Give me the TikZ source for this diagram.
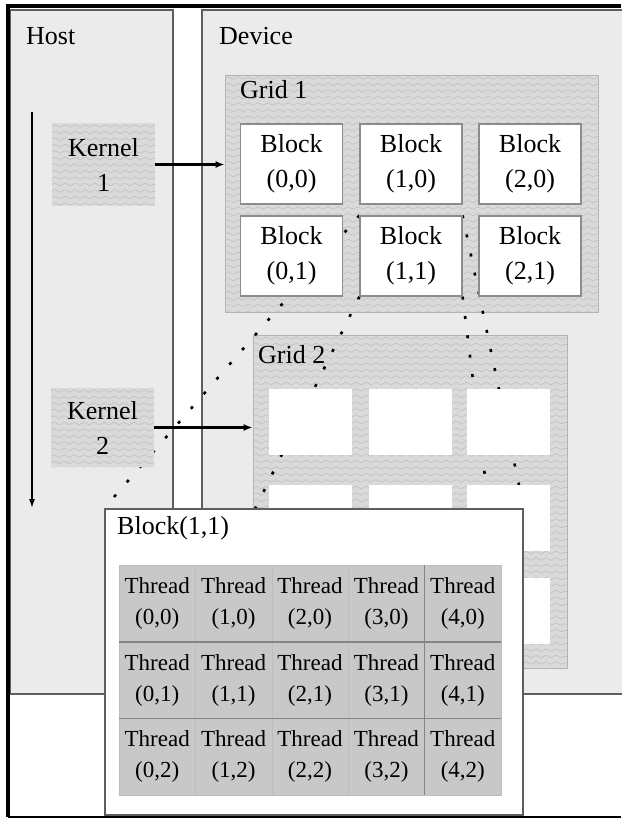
\documentclass[tikz,border=0pt]{standalone}
\usepackage{fontspec}
\setmainfont{Liberation Serif}
\usetikzlibrary{arrows.meta,decorations.pathmorphing}
\definecolor{Panel}{HTML}{EBEBEB}
\definecolor{PanelLine}{HTML}{5E5E5E}
\definecolor{Wave}{HTML}{DADADA}
\definecolor{WaveLine}{HTML}{C2C2C2}
\definecolor{GridLine}{HTML}{B4B4B4}
\definecolor{BoxLine}{HTML}{8C8C8C}
\definecolor{ThreadFill}{HTML}{C8C8C8}
\definecolor{ThreadLine}{HTML}{BDBDBD}
\definecolor{SepLine}{HTML}{858585}
\newcommand\lblfont{\fontsize{26}{35}\selectfont}
\newcommand\thrfont{\fontsize{23}{31}\selectfont}
\pgfdeclarelayer{bg}
\pgfdeclarelayer{dots}
\pgfsetlayers{bg,dots,main}

\begin{document}
\begin{tikzpicture}[
  x=1pt,y=-1pt,>=Latex,
  panel/.style={draw=PanelLine,line width=1.6pt,fill=Panel,inner sep=0},
  wave/.style={fill=Wave,inner sep=0,align=center,font=\lblfont,path picture={
    \foreach \k in {3,9.5,...,345}
      \draw[WaveLine,line width=.7pt,decorate,decoration={snake,amplitude=1.3pt,segment length=10pt}]
        ([yshift=-\k pt]path picture bounding box.north west) -- ([yshift=-\k pt]path picture bounding box.north east);}},
  gridbox/.style={wave,draw=GridLine,line width=.8pt},
  blockbox/.style={draw=BoxLine,line width=1.2pt,fill=white,inner sep=0,minimum width=102pt,minimum height=80pt,align=center,font=\lblfont},
  emptybox/.style={fill=white,inner sep=0,minimum width=83pt,minimum height=66pt},
  thread/.style={draw=ThreadLine,line width=.6pt,fill=ThreadFill,inner sep=0,minimum width=76.4pt,minimum height=76.67pt,align=center,font=\thrfont},
  lbl/.style={inner sep=0,anchor=base west,font=\lblfont},
  karrow/.style={-{Latex[length=9pt,width=7pt]},line width=2.2pt},
  tarrow/.style={-{Latex[length=9pt,width=6pt]},line width=1.5pt},
  dotline/.style={line width=2.6pt,dash pattern=on 3pt off 16.5pt}
]
  \useasboundingbox (0,0) rectangle (621,818);

  % panels and grids underneath
  \begin{pgfonlayer}{bg}
    \node[panel,minimum width=163pt,minimum height=684pt] (host) at (91.5,352) {};
    \node[panel,minimum width=421pt,minimum height=684pt] (device) at (412.5,352) {};
    \draw[line width=3.5pt] (621,6) -- (8,6) -- (8,817);
    \draw[line width=2pt] (8,817) -- (621,817);
    \node[gridbox,minimum width=373pt,minimum height=237pt] (grid1) at (411.5,193.5) {};
    \node[gridbox,minimum width=314pt,minimum height=333pt] (grid2) at (410,501.5) {};
  \end{pgfonlayer}

  \node[lbl] (hostlbl) at (26,45) {Host};
  \node[lbl] (devlbl) at (219,45) {Device};
  \node[lbl] (g1lbl) at (240,99) {Grid 1};
  \node[lbl] (g2lbl) at (258,363) {Grid 2};

  % kernels on the host
  \node[wave,minimum width=103pt,minimum height=83pt] (kernel1) at (103.5,164.5) {Kernel\\1};
  \node[wave,minimum width=103pt,minimum height=79pt] (kernel2) at (102.5,427.5) {Kernel\\2};
  \coordinate (tstart) at (32,112);
  \coordinate (tend) at (32,508);
  \draw[tarrow] (tstart) -- (tend);

  % blocks of grid 1
  \foreach \i/\x in {0/291.5,1/411,2/530}
    \foreach \j/\y in {0/164,1/256}
      \node[blockbox] (g1b\i\j) at (\x,\y) {Block\\(\i,\j)};

  % blocks of grid 2
  \foreach \i/\x in {0/310.5,1/410,2/508.5}
    \foreach \j/\y in {0/422,1/518,2/611}
      \node[emptybox] (g2b\i\j) at (\x,\y) {};

  \draw[karrow] (kernel1.east) -- (kernel1.east -| grid1.west);
  \draw[karrow] (kernel2.east) -- (kernel2.east -| grid2.west);

  % block (1,1) in detail
  \node[draw=PanelLine,line width=1.6pt,fill=white,inner sep=0,minimum width=418pt,minimum height=306pt] (blk) at (314,662) {};
  \node[lbl] (blklbl) at (117,534) {Block(1,1)};
  \foreach \i in {0,...,4}
    \foreach \j in {0,1,2}
      \node[thread] (t\i\j) at ({157.2+76.4*\i},{603.3+76.67*\j}) {Thread\\(\i,\j)};
  \draw[SepLine,line width=1.4pt] (t00.south west) -- (t40.south east);
  \draw[SepLine,line width=1.4pt] (t01.south west) -- (t41.south east);
  \draw[SepLine,line width=1pt] (t30.north east) -- (t32.south east);

  \begin{pgfonlayer}{dots}
    \coordinate (l2end) at (255,509);
    \coordinate (r2end) at (489,509);
    \draw[dotline] (g1b11.north west) -- (blk.north west);
    \draw[dotline] (g1b11.north east) -- (blk.north east);
    \draw[dotline] (g1b11.south west) -- (l2end);
    \draw[dotline] (g1b11.south east) -- (r2end);
  \end{pgfonlayer}
\end{tikzpicture}
\end{document}
